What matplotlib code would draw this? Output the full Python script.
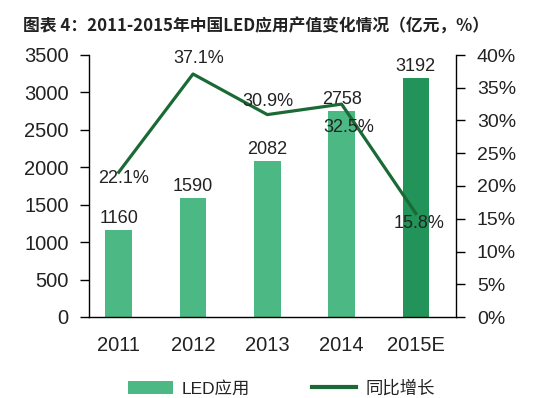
import matplotlib
matplotlib.use("Agg")
import matplotlib.pyplot as plt
from matplotlib.patches import Patch
from matplotlib.lines import Line2D

plt.rcParams['font.family'] = ['Liberation Sans', 'Noto Sans CJK SC', 'DejaVu Sans']

years = ["2011", "2012", "2013", "2014", "2015E"]
output_value = [1160, 1590, 2082, 2758, 3192]
growth = [22.1, 37.1, 30.9, 32.5, 15.8]
left_ticks = [0, 500, 1000, 1500, 2000, 2500, 3000, 3500]
right_ticks = [0, 5, 10, 15, 20, 25, 30, 35, 40]

bar_color = "#4cb883"
bar_color_last = "#22945a"
line_color = "#1b6a36"
text_color = "#222222"

fig = plt.figure(figsize=(5.6, 3.98), dpi=100)
ax = fig.add_axes([89/560, 1 - 317/398, (456-89)/560, (317-55)/398])
ax2 = ax.twinx()

x = list(range(len(years)))
colors = [bar_color] * (len(years) - 1) + [bar_color_last]
ax.bar(x, output_value, width=0.36, color=colors, zorder=2)
ax.set_ylim(0, 3500)
ax.set_yticks(left_ticks)
ax.set_yticklabels([str(v) for v in left_ticks], fontsize=14.5, color=text_color)
ax.set_xlim(-0.4, 4.54)
ax.set_xticks(x)
ax.set_xticklabels(years, fontsize=14.5, color=text_color)
ax.tick_params(axis='x', length=0, pad=14)
ax.tick_params(axis='y', direction='out', length=6.5, width=1, pad=8)
for s in ['top', 'right']:
    ax.spines[s].set_visible(False)
for s in ['left', 'bottom']:
    ax.spines[s].set_linewidth(1)
    ax.spines[s].set_color('black')

for xi, v in zip(x, output_value):
    ax.annotate(str(v), (xi, v), textcoords='offset pixels', xytext=(0, 3),
                ha='center', va='bottom', fontsize=13, color=text_color)

ax2.plot(x, growth, color=line_color, linewidth=2.3, zorder=3)
ax2.set_ylim(0, 40)
ax2.set_yticks(right_ticks)
ax2.set_yticklabels([f"{v}%" for v in right_ticks], fontsize=14, color=text_color)
ax2.tick_params(axis='y', direction='out', length=6.5, width=1, pad=8.5)
for s in ['top', 'left', 'bottom']:
    ax2.spines[s].set_visible(False)
ax2.spines['right'].set_linewidth(1)

offsets = [(5, -6), (6, 15), (1, 13), (7, -23), (3, -10)]
for xi, g, off in zip(x, growth, offsets):
    ax2.annotate(f"{g}%", (xi, g), textcoords='offset pixels', xytext=off,
                 ha='center', va='center', fontsize=13, color=text_color, zorder=4)

fig.text(23/560, 1 - 27/398, "图表 4：2011-2015年中国LED应用产值变化情况（亿元，%）",
         fontsize=12.1, fontweight='bold', color=text_color, ha='left', va='center',
         family=['Noto Sans CJK SC', 'DejaVu Sans'])

handles = [Patch(facecolor=bar_color, edgecolor='none'),
           Line2D([0], [0], color=line_color, linewidth=3)]
fig.legend(handles, ["LED应用", "同比增长"], loc='center',
           bbox_to_anchor=(281.5/560, 1 - 388/398), ncol=2, frameon=False,
           fontsize=12.5, handlelength=2.55, handleheight=0.8, handletextpad=0.5,
           columnspacing=3.6, borderpad=0, labelcolor=text_color)

fig.savefig("out.png", dpi=100)
